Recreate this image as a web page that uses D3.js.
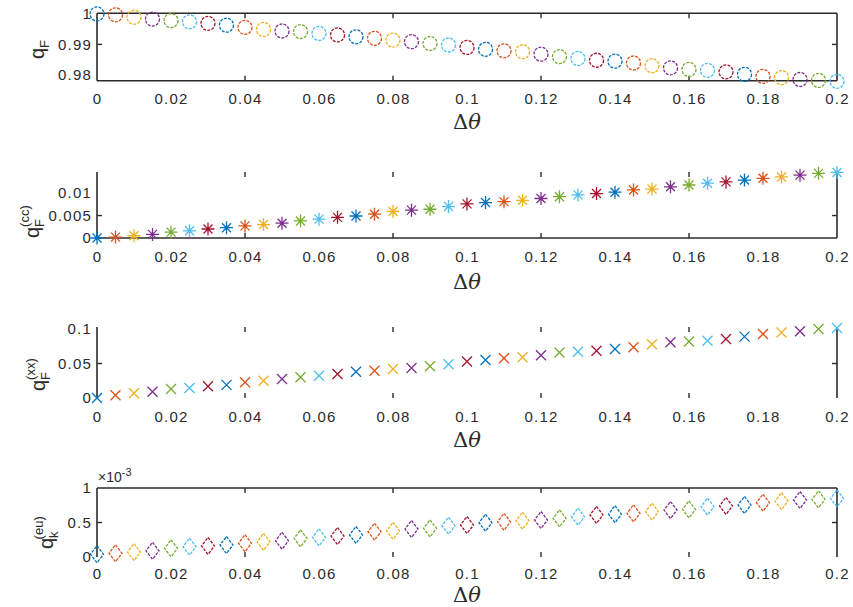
<!DOCTYPE html>
<html>
<head>
<meta charset="utf-8">
<script src="https://cdn.jsdelivr.net/npm/d3@7/dist/d3.min.js"></script>
<style>
  body { margin: 0; background: #fff; }
  svg text { font-family: "Liberation Sans", Arial, sans-serif; fill: #2b2b2b; }
</style>
</head>
<body>
<div id="chart"></div>
<script>
// step of the rotation angle
var dTheta = [0, 0.005, 0.01, 0.015, 0.02, 0.025, 0.03, 0.035, 0.04, 0.045,
  0.05, 0.055, 0.06, 0.065, 0.07, 0.075, 0.08, 0.085, 0.09, 0.095,
  0.1, 0.105, 0.11, 0.115, 0.12, 0.125, 0.13, 0.135, 0.14, 0.145,
  0.15, 0.155, 0.16, 0.165, 0.17, 0.175, 0.18, 0.185, 0.19, 0.195, 0.2];

var qF = [1.0000, 0.9997, 0.9989, 0.9983, 0.9978, 0.9974, 0.9969, 0.9963, 0.9956, 0.9949,
  0.9944, 0.9942, 0.9936, 0.9931, 0.9925, 0.9920, 0.9914, 0.9909, 0.9903, 0.9898,
  0.9890, 0.9884, 0.9879, 0.9876, 0.9868, 0.9860, 0.9854, 0.9848, 0.9845, 0.9839,
  0.9830, 0.9823, 0.9818, 0.9815, 0.9810, 0.9802, 0.9795, 0.9791, 0.9785, 0.9782, 0.9779];

var qCC = [0, 0.0002, 0.0005, 0.0008, 0.0013, 0.0016, 0.0020, 0.0023, 0.0027, 0.0030,
  0.0033, 0.0038, 0.0042, 0.0046, 0.0049, 0.0053, 0.0059, 0.0062, 0.0064, 0.0070,
  0.0076, 0.0079, 0.0081, 0.0084, 0.0088, 0.0092, 0.0096, 0.0099, 0.0102, 0.0107,
  0.0109, 0.0114, 0.0118, 0.0122, 0.0125, 0.0129, 0.0133, 0.0136, 0.0140, 0.0144, 0.0146];

var qXX = [0, 0.004, 0.007, 0.009, 0.013, 0.0145, 0.017, 0.019, 0.0228, 0.025,
  0.0275, 0.030, 0.0323, 0.0348, 0.038, 0.0396, 0.042, 0.0435, 0.046, 0.049,
  0.053, 0.055, 0.0575, 0.059, 0.062, 0.066, 0.067, 0.0686, 0.071, 0.0735,
  0.078, 0.0807, 0.082, 0.083, 0.0855, 0.0889, 0.0928, 0.095, 0.0967, 0.100, 0.1014];

// in units of 1e-3
var qEU = [0.04, 0.054, 0.07, 0.09, 0.126, 0.15, 0.16, 0.174, 0.20, 0.22,
  0.236, 0.27, 0.285, 0.304, 0.32, 0.367, 0.38, 0.406, 0.415, 0.454,
  0.464, 0.497, 0.51, 0.526, 0.536, 0.56, 0.584, 0.61, 0.62, 0.633,
  0.657, 0.68, 0.69, 0.73, 0.74, 0.754, 0.787, 0.81, 0.826, 0.836, 0.85];

var xTicks = [0, 0.02, 0.04, 0.06, 0.08, 0.1, 0.12, 0.14, 0.16, 0.18, 0.2];
var xTickLabels = ["0", "0.02", "0.04", "0.06", "0.08", "0.1", "0.12", "0.14", "0.16", "0.18", "0.2"];
var xTickMarks = [0.04, 0.08, 0.12, 0.16];

var yTicksF = [0.98, 0.99, 1], yLabelsF = ["0.98", "0.99", "1"];
var yTicksCC = [0, 0.005, 0.01], yLabelsCC = ["0", "0.005", "0.01"];
var yTicksXX = [0, 0.05, 0.1], yLabelsXX = ["0", "0.05", "0.1"];
var yTicksEU = [0, 0.5, 1], yLabelsEU = ["0", "0.5", "1"];

var colors = ["#0072BD", "#D95319", "#EDB120", "#7E2F8E", "#77AC30", "#4DBEEE", "#A2142F"];

var width = 853, height = 607;
var axisColor = "#2b2b2b";

var svg = d3.select("#chart").append("svg")
  .attr("width", width)
  .attr("height", height);

var x = d3.scaleLinear().domain([0, 0.2]).range([97, 837]);

var panels = [
  { values: qF, domain: [0.9781, 1.0002], top: 13.3, bottom: 80.7,
    ticks: yTicksF, labels: yLabelsF, marker: "circle",
    sides: { top: true, bottom: true, left: true, right: true },
    label: ["q", "F", null], labelX: 44, labelY: 59, xlabelY: 122, pad: 13 },
  { values: qCC, domain: [0, 0.0147], top: 172, bottom: 238,
    ticks: yTicksCC, labels: yLabelsCC, marker: "star",
    sides: { top: false, bottom: true, left: true, right: true },
    label: ["q", "F", "(cc)"], labelX: 39, labelY: 238, xlabelY: 282, pad: 13 },
  { values: qXX, domain: [0, 0.1029], top: 327, bottom: 398,
    ticks: yTicksXX, labels: yLabelsXX, marker: "x",
    sides: { top: false, bottom: false, left: true, right: true },
    label: ["q", "F", "(xx)"], labelX: 45, labelY: 391, xlabelY: 440, pad: 13 },
  { values: qEU, domain: [0, 1], top: 488, bottom: 557,
    ticks: yTicksEU, labels: yLabelsEU, marker: "diamond",
    sides: { top: true, bottom: false, left: true, right: true },
    label: ["q", "k", "(eu)"], labelX: 53, labelY: 549, xlabelY: 595, pad: 11, exponent: true }
];

function drawMarker(g, type, color) {
  var sw = 1.3;
  if (type === "circle") {
    g.append("circle").attr("r", 7)
      .attr("fill", "none").attr("stroke", color).attr("stroke-width", sw)
      .attr("stroke-dasharray", "3,1.3");
  } else if (type === "diamond") {
    g.append("path").attr("d", "M0,-8.5L6.5,0L0,8.5L-6.5,0Z")
      .attr("fill", "none").attr("stroke", color).attr("stroke-width", sw)
      .attr("stroke-dasharray", "3,1.3");
  } else if (type === "x") {
    g.append("path").attr("d", "M-5,-5L5,5M-5,5L5,-5")
      .attr("stroke", color).attr("stroke-width", sw);
  } else if (type === "star") {
    g.append("path").attr("d", "M0,-6.5V6.5M-6.5,0H6.5M-4.5,-4.5L4.5,4.5M-4.5,4.5L4.5,-4.5")
      .attr("stroke", color).attr("stroke-width", sw);
  }
}

panels.forEach(function(p) {
  var y = d3.scaleLinear().domain(p.domain).range([p.bottom, p.top]);
  var g = svg.append("g");

  // x tick labels
  g.append("g")
    .attr("transform", "translate(0," + p.bottom + ")")
    .call(d3.axisBottom(x).tickValues(xTicks)
      .tickFormat(function(d, i) { return xTickLabels[i]; })
      .tickSize(0).tickPadding(p.pad))
    .call(function(a) {
      a.select(".domain").remove();
      a.selectAll("text").style("font-size", "15px").style("letter-spacing", "1.2px")
        .attr("fill", axisColor);
    });

  // y tick labels
  g.append("g")
    .attr("transform", "translate(" + x(0) + ",0)")
    .call(d3.axisLeft(y).tickValues(p.ticks)
      .tickFormat(function(d, i) { return p.labels[i]; })
      .tickSize(0).tickPadding(5))
    .call(function(a) {
      a.select(".domain").remove();
      a.selectAll("text").style("font-size", "15px").style("letter-spacing", "1.2px")
        .attr("fill", axisColor);
    });

  // box sides
  var x0 = x(0), x1 = x(0.2);
  var lines = [];
  if (p.sides.top) lines.push([x0, p.top, x1, p.top]);
  if (p.sides.bottom) lines.push([x0, p.bottom, x1, p.bottom]);
  if (p.sides.left) lines.push([x0, p.top, x0, p.bottom]);
  if (p.sides.right) lines.push([x1, p.top, x1, p.bottom]);
  g.selectAll(".side").data(lines).enter().append("line")
    .attr("x1", function(d) { return d[0]; })
    .attr("y1", function(d) { return d[1]; })
    .attr("x2", function(d) { return d[2]; })
    .attr("y2", function(d) { return d[3]; })
    .attr("stroke", axisColor).attr("stroke-width", 1.6);

  // inward tick marks
  xTickMarks.forEach(function(t) {
    g.append("line").attr("x1", x(t)).attr("x2", x(t))
      .attr("y1", p.top).attr("y2", p.top + 5)
      .attr("stroke", axisColor).attr("stroke-width", 1.4);
    g.append("line").attr("x1", x(t)).attr("x2", x(t))
      .attr("y1", p.bottom).attr("y2", p.bottom - 5)
      .attr("stroke", axisColor).attr("stroke-width", 1.4);
  });
  p.ticks.forEach(function(t) {
    if (t === p.ticks[0] || t === p.ticks[p.ticks.length - 1]) return;
    g.append("line").attr("x1", x0).attr("x2", x0 + 5)
      .attr("y1", y(t)).attr("y2", y(t))
      .attr("stroke", axisColor).attr("stroke-width", 1.4);
    g.append("line").attr("x1", x1).attr("x2", x1 - 5)
      .attr("y1", y(t)).attr("y2", y(t))
      .attr("stroke", axisColor).attr("stroke-width", 1.4);
  });

  // points
  g.selectAll(".pt").data(p.values).enter().append("g")
    .attr("transform", function(d, i) { return "translate(" + x(dTheta[i]) + "," + y(d) + ")"; })
    .each(function(d, i) { drawMarker(d3.select(this), p.marker, colors[i % colors.length]); });

  // x label
  var xl = g.append("text")
    .attr("x", x(0.1)).attr("y", p.xlabelY + 7)
    .attr("text-anchor", "middle")
    .style("font-family", "'DejaVu Serif', 'Liberation Serif', serif")
    .style("font-size", "21px");
  xl.append("tspan").text("Δ");
  xl.append("tspan").style("font-style", "italic").text("θ");

  // y label, read bottom to top
  var yl = g.append("text")
    .attr("transform", "translate(" + p.labelX + "," + p.labelY + ") rotate(-90)")
    .attr("text-anchor", "start")
    .style("font-size", "20px");
  yl.append("tspan").text(p.label[0]);
  yl.append("tspan").attr("dy", 5).style("font-size", "13px").text(p.label[1]);
  if (p.label[2]) {
    yl.append("tspan").attr("dx", -8).attr("dy", -15).style("font-size", "13px").text(p.label[2]);
  }

  if (p.exponent) {
    var ex = g.append("text").attr("x", 98).attr("y", p.top - 6).style("font-size", "14px");
    ex.append("tspan").text("×10");
    ex.append("tspan").attr("dy", -6).style("font-size", "11px").text("-3");
  }
});
</script>
</body>
</html>
